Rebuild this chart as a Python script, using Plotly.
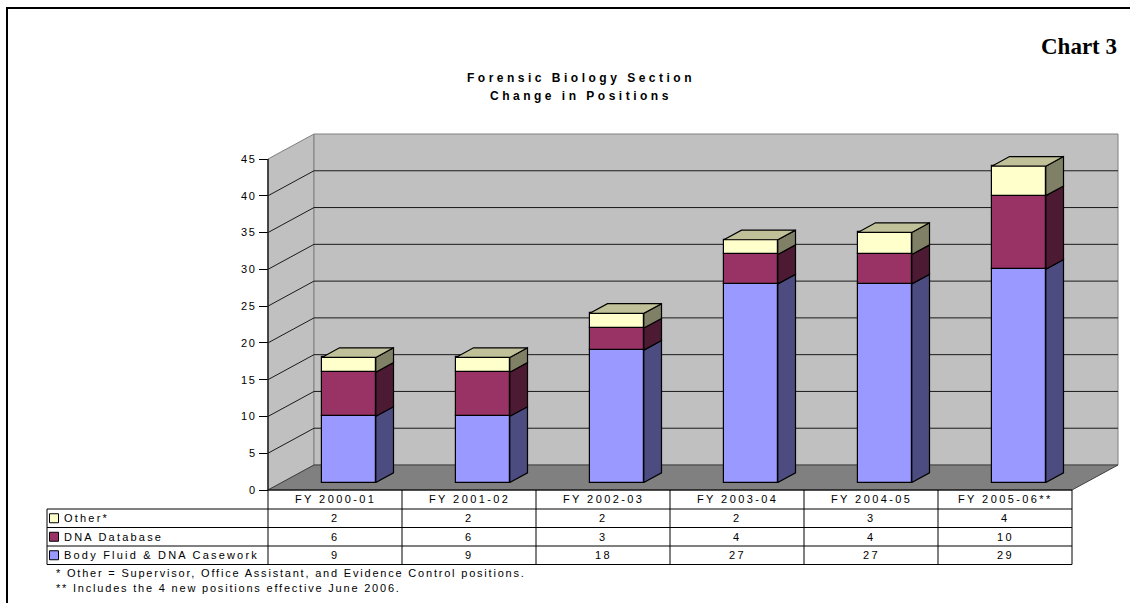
import plotly.graph_objects as go

# ---- data -------------------------------------------------------------
categories = ["FY 2000-01", "FY 2001-02", "FY 2002-03", "FY 2003-04", "FY 2004-05", "FY 2005-06**"]
body_fluid = [9, 9, 18, 27, 27, 29]
dna_database = [6, 6, 3, 4, 4, 10]
other = [2, 2, 2, 2, 3, 4]
series_names = ["Body Fluid &amp; DNA Casework", "DNA Database", "Other*"]
y_ticks = [0, 5, 10, 15, 20, 25, 30, 35, 40, 45]
title_lines = ["Forensic Biology Section", "Change in Positions"]
footnotes = [
    "* Other = Supervisor, Office Assistant, and Evidence Control positions.",
    "** Includes the 4 new positions effective June 2006.",
]

# ---- geometry ---------------------------------------------------------
W, H = 1130, 603
X0_PX = 268            # left edge of the category axis (front plane)
CAT_PX = 134           # width of one category
Y0_PX = 490            # zero line (front plane)
UNIT_PX = 331 / 45     # pixels per position

x_range = [-0.5 - X0_PX / CAT_PX, -0.5 + (W - X0_PX) / CAT_PX]
y_range = [-(H - Y0_PX) / UNIT_PX, Y0_PX / UNIT_PX]

DX, DY = 46 / CAT_PX, 25 / UNIT_PX   # full depth of the 3-D box
BAR_FRONT, BAR_BACK = 0.30, 0.685    # depth fractions of the columns
BAR_W = 54 / CAT_PX
YMAX = 45
XL, XR = -0.5, len(categories) - 0.5

FONT = "Liberation Sans, Arial, sans-serif"
front_col = ["#9999FF", "#993366", "#FFFFCC"]
side_col = ["#4C4C80", "#4D1A33", "#808066"]
top_col = ["#7373BF", "#73264D", "#C0C099"]


def px_x(p):
    return p / W


def px_y(p):
    return 1 - p / H


def spaced(text, sp):
    return f'<span style="letter-spacing:{sp}px">{text}</span>'


def pt(x, y, d):
    return x + d * DX, y + d * DY


def path(points):
    return "M " + " L ".join(f"{x:.5f},{y:.5f}" for x, y in points) + " Z"


fig = go.Figure()
shapes = []
annotations = []

# ---- walls, floor, gridlines -------------------------------------------
shapes.append(dict(type="path", xref="x", yref="y", layer="below",
                   path=path([pt(XL, 0, 0), pt(XL, YMAX, 0), pt(XL, YMAX, 1), pt(XL, 0, 1)]),
                   fillcolor="#C0C0C0", line=dict(color="#808080", width=1)))
shapes.append(dict(type="path", xref="x", yref="y", layer="below",
                   path=path([pt(XL, 0, 1), pt(XL, YMAX, 1), pt(XR, YMAX, 1), pt(XR, 0, 1)]),
                   fillcolor="#C0C0C0", line=dict(color="#808080", width=1)))
for v in y_ticks[1:-1]:
    a, b, c = pt(XL, v, 0), pt(XL, v, 1), pt(XR, v, 1)
    shapes.append(dict(type="path", xref="x", yref="y", layer="below",
                       path=f"M {a[0]},{a[1]} L {b[0]},{b[1]} L {c[0]},{c[1]}",
                       line=dict(color="#1A1A1A", width=1)))
shapes.append(dict(type="path", xref="x", yref="y", layer="below",
                   path=path([pt(XL, 0, 0), pt(XR, 0, 0), pt(XR, 0, 1), pt(XL, 0, 1)]),
                   fillcolor="#808080", line=dict(color="#404040", width=1)))
# value axis line
shapes.append(dict(type="line", xref="x", yref="y", x0=XL, x1=XL, y0=0, y1=YMAX,
                   line=dict(color="#222222", width=1.5)))

# ---- stacked 3-D columns ----------------------------------------------
stack = [body_fluid, dna_database, other]
base = [0] * len(categories)
fdx, fdy = BAR_FRONT * DX, BAR_FRONT * DY
ddx, ddy = (BAR_BACK - BAR_FRONT) * DX, (BAR_BACK - BAR_FRONT) * DY
for s, vals in enumerate(stack):
    fig.add_trace(go.Bar(
        x=[i + fdx for i in range(len(categories))], y=vals,
        base=[b + fdy for b in base], width=BAR_W,
        marker=dict(color=front_col[s], line=dict(color="#000000", width=1.2)),
        name=series_names[s], showlegend=False, hoverinfo="skip"))
    sx, sy = [], []
    for i, v in enumerate(vals):
        xr = i + fdx + BAR_W / 2
        b0, b1 = base[i] + fdy, base[i] + v + fdy
        sx += [xr, xr + ddx, xr + ddx, xr, xr, None]
        sy += [b0, b0 + ddy, b1 + ddy, b1, b0, None]
    fig.add_trace(go.Scatter(x=sx, y=sy, mode="lines", fill="toself",
                             fillcolor=side_col[s], line=dict(color="#000000", width=1.2),
                             showlegend=False, hoverinfo="skip"))
    base = [b + v for b, v in zip(base, vals)]

tx, ty = [], []
for i, t in enumerate(base):
    xl = i + fdx - BAR_W / 2
    xr = xl + BAR_W
    y = t + fdy
    tx += [xl, xr, xr + ddx, xl + ddx, xl, None]
    ty += [y, y, y + ddy, y + ddy, y, None]
fig.add_trace(go.Scatter(x=tx, y=ty, mode="lines", fill="toself",
                         fillcolor=top_col[2], line=dict(color="#000000", width=1.2),
                         showlegend=False, hoverinfo="skip"))

# ---- data table --------------------------------------------------------
row_y = [490, 509, 527.5, 546, 564.5]   # header top, row boundaries (px)
TABLE_LEFT = 47
line_kw = dict(color="#000000", width=1)
col_px = [X0_PX + CAT_PX * k for k in range(len(categories) + 1)]
shapes.append(dict(type="line", xref="paper", yref="paper", x0=px_x(col_px[0]), x1=px_x(col_px[-1]),
                   y0=px_y(row_y[0]), y1=px_y(row_y[0]), line=line_kw))
for ry in row_y[1:]:
    shapes.append(dict(type="line", xref="paper", yref="paper", x0=px_x(TABLE_LEFT), x1=px_x(col_px[-1]),
                       y0=px_y(ry), y1=px_y(ry), line=line_kw))
for cx in col_px:
    shapes.append(dict(type="line", xref="paper", yref="paper", x0=px_x(cx), x1=px_x(cx),
                       y0=px_y(row_y[0]), y1=px_y(row_y[-1]), line=line_kw))
shapes.append(dict(type="line", xref="paper", yref="paper", x0=px_x(TABLE_LEFT), x1=px_x(TABLE_LEFT),
                   y0=px_y(row_y[1]), y1=px_y(row_y[-1]), line=line_kw))

cell_font = dict(family=FONT, size=11, color="#000000")
for k, cat in enumerate(categories):
    cxm = (col_px[k] + col_px[k + 1]) / 2
    annotations.append(dict(xref="paper", yref="paper", x=px_x(cxm), y=px_y((row_y[0] + row_y[1]) / 2),
                            text=spaced(cat, 2.4), showarrow=False, font=cell_font,
                            xanchor="center", yanchor="middle"))

table_rows = [(series_names[2], other, 2), (series_names[1], dna_database, 1), (series_names[0], body_fluid, 0)]
for r, (name, vals, s) in enumerate(table_rows):
    top, bot = row_y[r + 1], row_y[r + 2]
    mid = (top + bot) / 2
    shapes.append(dict(type="rect", xref="paper", yref="paper",
                       x0=px_x(49.5), x1=px_x(58.5), y0=px_y(mid - 4.5), y1=px_y(mid + 4.5),
                       fillcolor=front_col[s], line=dict(color="#000000", width=1)))
    annotations.append(dict(xref="paper", yref="paper", x=px_x(62), y=px_y(mid),
                            text=spaced(name, 2.2), showarrow=False, font=cell_font,
                            xanchor="left", yanchor="middle"))
    for k, v in enumerate(vals):
        cxm = (col_px[k] + col_px[k + 1]) / 2
        annotations.append(dict(xref="paper", yref="paper", x=px_x(cxm), y=px_y(mid),
                                text=spaced(str(v), 2.4), showarrow=False, font=cell_font,
                                xanchor="center", yanchor="middle"))

# ---- titles and notes --------------------------------------------------
for j, line in enumerate(title_lines):
    annotations.append(dict(xref="paper", yref="paper", x=px_x(581), y=px_y(78 + 18 * j),
                            text=spaced(line, 3.5), showarrow=False,
                            font=dict(family=FONT, size=12, color="#000000", weight="bold"),
                            xanchor="center", yanchor="middle"))
annotations.append(dict(xref="paper", yref="paper", x=px_x(1119), y=px_y(47),
                        text="Chart 3", showarrow=False,
                        font=dict(family="Liberation Serif, Times New Roman, serif", size=23,
                                  color="#000000", weight="bold"),
                        xanchor="right", yanchor="middle"))
for j, note in enumerate(footnotes):
    annotations.append(dict(xref="paper", yref="paper", x=px_x(54), y=px_y(573 + 15 * j),
                            text=spaced(note, 1.8), showarrow=False, font=cell_font,
                            xanchor="left", yanchor="middle"))

# page frame
shapes.append(dict(type="line", xref="paper", yref="paper", x0=px_x(6), x1=1,
                   y0=px_y(8), y1=px_y(8), line=dict(color="#000000", width=2)))
shapes.append(dict(type="line", xref="paper", yref="paper", x0=px_x(7), x1=px_x(7),
                   y0=px_y(7), y1=0, line=dict(color="#000000", width=2)))

fig.update_layout(
    width=W, height=H,
    margin=dict(l=0, r=0, t=0, b=0, pad=0),
    paper_bgcolor="#FFFFFF", plot_bgcolor="#FFFFFF",
    barmode="overlay", bargap=0,
    showlegend=False,
    shapes=shapes, annotations=annotations,
    xaxis=dict(range=x_range, visible=False, fixedrange=True),
    yaxis=dict(range=y_range, anchor="free", position=X0_PX / W,
               showgrid=False, zeroline=False, showline=False,
               tickmode="array", tickvals=y_ticks,
               ticktext=[spaced(str(t), 1.8) for t in y_ticks],
               ticks="outside", ticklen=9, tickwidth=1, tickcolor="#000000",
               tickfont=dict(family=FONT, size=11, color="#000000"),
               fixedrange=True),
)

fig.write_html("out.html")
